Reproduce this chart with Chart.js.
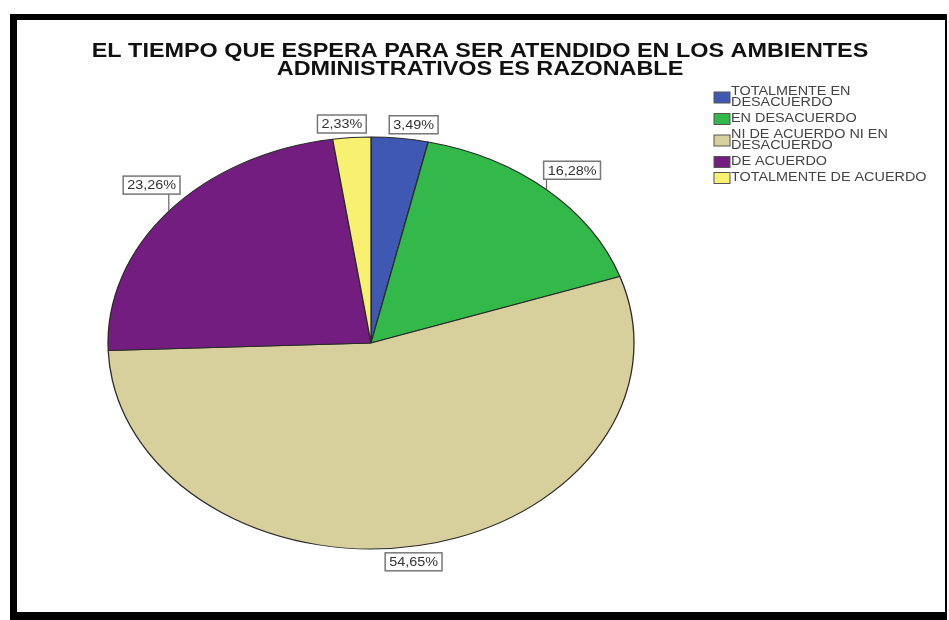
<!DOCTYPE html>
<html lang="es">
<head>
  <meta charset="UTF-8" />
  <title>Tiempo de espera</title>
  <script src="https://cdn.jsdelivr.net/npm/chart.js"></script>
  <style>
    body { margin: 0; background: #fff; }
    #wrap { position: relative; width: 949px; height: 620px; overflow: hidden; }
    #grafico { position: absolute; left: 0; top: 0; }
    #marco { position: absolute; left: 10px; top: 14px; right: 2px; bottom: 0;
             box-sizing: border-box; border: solid #000; border-width: 6px 2px 8px 7px; }
  </style>
</head>
<body>
  <div id="wrap">
    <canvas id="grafico" width="949" height="620"></canvas>
    <div id="marco"></div>
  </div>

  <script>
    // datos del gráfico
    const titulo = ['EL TIEMPO QUE ESPERA PARA SER ATENDIDO EN LOS AMBIENTES',
                    'ADMINISTRATIVOS ES RAZONABLE'];
    const categorias = ['TOTALMENTE EN DESACUERDO', 'EN DESACUERDO',
                        'NI DE ACUERDO NI EN DESACUERDO', 'DE ACUERDO', 'TOTALMENTE DE ACUERDO'];
    const leyendaLineas = [['TOTALMENTE EN', 'DESACUERDO'], ['EN DESACUERDO'],
                           ['NI DE ACUERDO NI EN', 'DESACUERDO'], ['DE ACUERDO'],
                           ['TOTALMENTE DE ACUERDO']];
    const porcentajes = [3.49, 16.28, 54.65, 23.26, 2.33];
    const colores = ['#3e58b4', '#33b84a', '#d8d09c', '#741d80', '#f7f070'];

    const FUENTE = '"Liberation Sans", Arial, sans-serif';
    const ESCALA_X = 263 / 206;   // torta ovalada: más ancha que alta
    // pequeños desplazamientos de cada etiqueta de porcentaje
    const ajustes = [[11, 7], [8, -4], [-10, -4], [3, -13], [-8, 7]];

    const elipse = {
      id: 'elipse',
      beforeDatasetsDraw(chart) {
        const arc = chart.getDatasetMeta(0).data[0];
        const ctx = chart.ctx;
        ctx.save();
        ctx.translate(arc.x, arc.y);
        ctx.scale(ESCALA_X, 1);
        ctx.translate(-arc.x, -arc.y);
      },
      afterDatasetsDraw(chart) { chart.ctx.restore(); }
    };

    function textoAncho(ctx, txt, x, y, sx) {
      ctx.save();
      ctx.translate(x, y);
      ctx.scale(sx, 1);
      ctx.fillText(txt, 0, 0);
      ctx.restore();
    }

    const rotulos = {
      id: 'rotulos',
      afterDraw(chart) {
        const ctx = chart.ctx;

        // título
        ctx.save();
        ctx.fillStyle = '#111';
        ctx.font = 'bold 20px ' + FUENTE;
        ctx.textAlign = 'center';
        ctx.textBaseline = 'alphabetic';
        textoAncho(ctx, titulo[0], 480, 57, 1.17);
        textoAncho(ctx, titulo[1], 480, 75, 1.17);
        ctx.restore();

        // etiquetas de porcentaje
        chart.getDatasetMeta(0).data.forEach((arc, i) => {
          const a = (arc.startAngle + arc.endAngle) / 2;
          const r = arc.outerRadius;
          const ex = arc.x + Math.cos(a) * r * ESCALA_X;
          const ey = arc.y + Math.sin(a) * r;
          const lx = arc.x + Math.cos(a) * r * 1.1 * ESCALA_X + ajustes[i][0];
          const ly = arc.y + Math.sin(a) * r * 1.1 + ajustes[i][1];
          const txt = porcentajes[i].toFixed(2).replace('.', ',') + '%';
          ctx.save();
          ctx.font = '12px ' + FUENTE;
          const w = ctx.measureText(txt).width * 1.2 + 8;
          const h = 18;
          const bx = lx - w / 2, by = ly - h / 2;
          // línea guía hasta el borde del sector
          const px = Math.min(Math.max(ex, bx), bx + w);
          const py = Math.min(Math.max(ey, by), by + h);
          if (Math.hypot(ex - px, ey - py) > 8) {
            ctx.strokeStyle = '#666';
            ctx.lineWidth = 1.2;
            ctx.beginPath();
            ctx.moveTo(px, py);
            ctx.lineTo(ex, ey);
            ctx.stroke();
          }
          ctx.fillStyle = '#fff';
          ctx.fillRect(bx, by, w, h);
          ctx.strokeStyle = '#777';
          ctx.lineWidth = 1.5;
          ctx.strokeRect(bx, by, w, h);
          ctx.fillStyle = '#333';
          ctx.textAlign = 'center';
          ctx.textBaseline = 'middle';
          textoAncho(ctx, txt, lx, ly + 1, 1.2);
          ctx.restore();
        });

        // leyenda
        ctx.save();
        ctx.font = '12px ' + FUENTE;
        ctx.textBaseline = 'middle';
        ctx.textAlign = 'left';
        let y = 92;
        leyendaLineas.forEach((lineas, i) => {
          const centro = y + (lineas.length - 1) * 11 / 2;
          ctx.fillStyle = colores[i];
          ctx.fillRect(714, centro - 5.5, 16, 11);
          ctx.strokeStyle = '#555';
          ctx.lineWidth = 1;
          ctx.strokeRect(714, centro - 5.5, 16, 11);
          ctx.fillStyle = '#444';
          lineas.forEach((t, j) => textoAncho(ctx, t, 731, y + j * 11, 1.2));
          y += lineas.length * 11 + 5;
        });
        ctx.restore();
      }
    };

    new Chart(document.getElementById('grafico'), {
      type: 'pie',
      data: {
        labels: categorias,
        datasets: [{
          data: porcentajes,
          backgroundColor: colores,
          borderColor: '#2a2a2a',
          borderWidth: 1
        }]
      },
      options: {
        responsive: false,
        animation: false,
        events: [],
        radius: 206,
        layout: { padding: { top: 137, bottom: 71, left: 165, right: 372 } },
        plugins: { legend: { display: false }, title: { display: false }, tooltip: { enabled: false } }
      },
      plugins: [elipse, rotulos]
    });
  </script>
</body>
</html>
